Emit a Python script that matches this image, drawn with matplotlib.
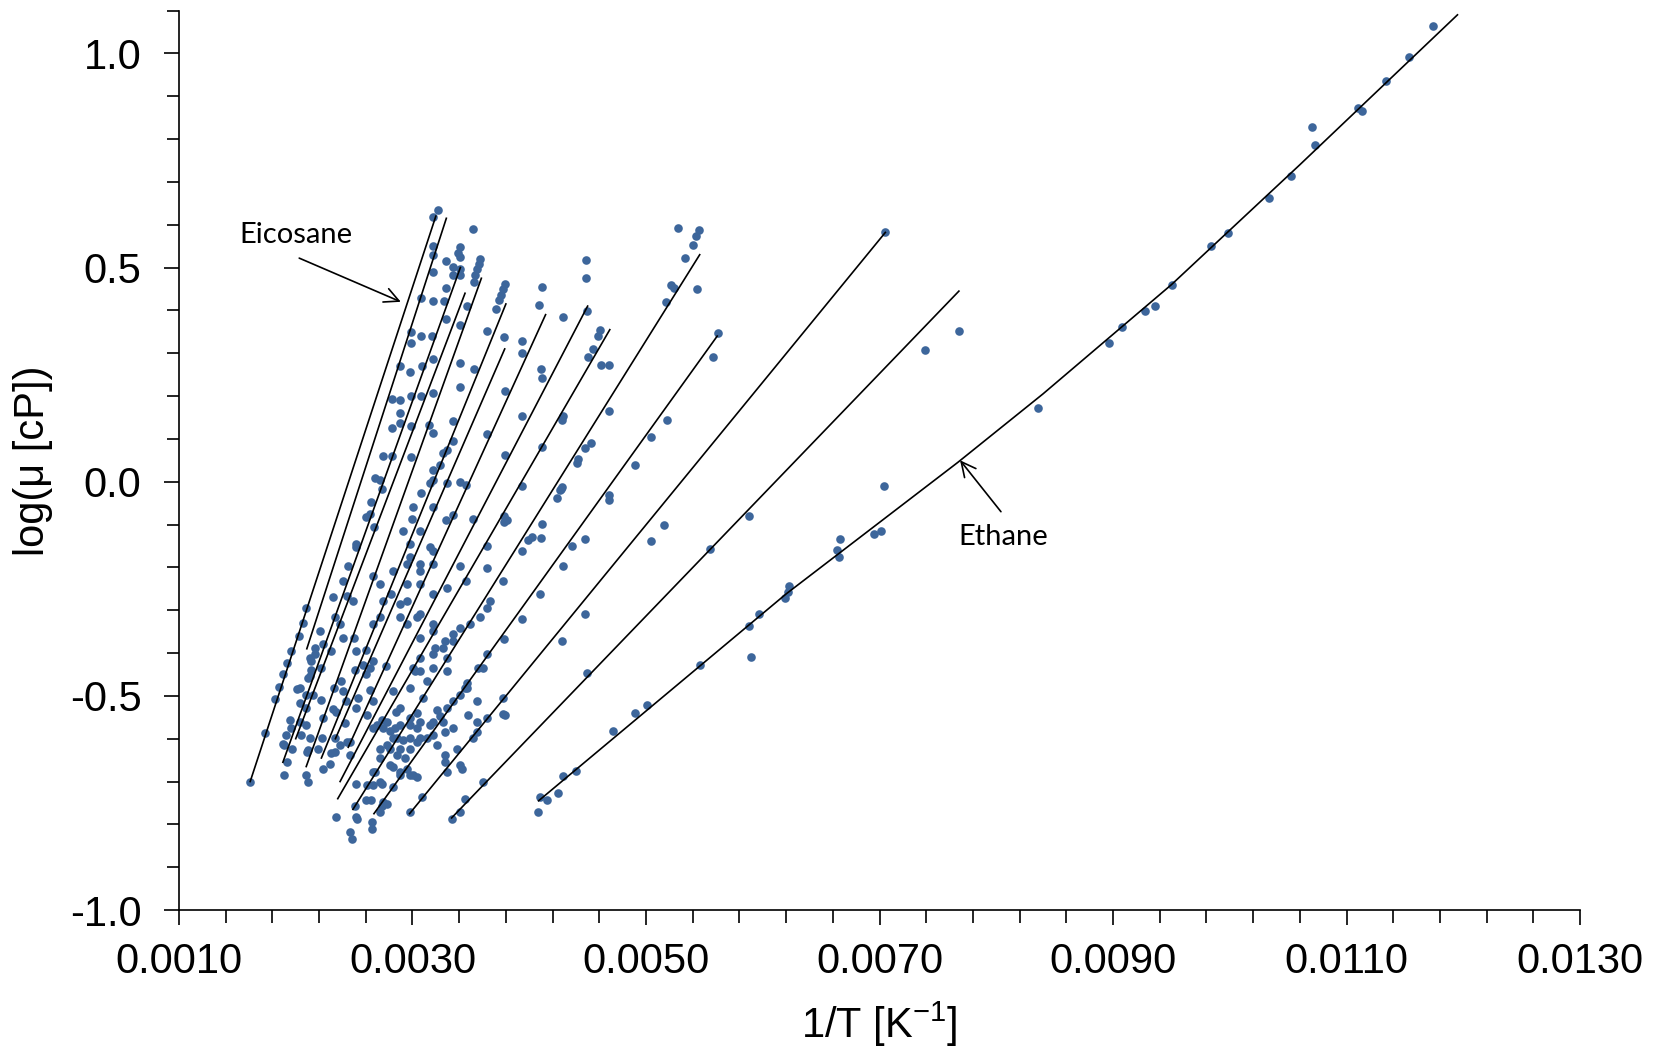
import matplotlib
matplotlib.use('Agg')
import matplotlib.pyplot as plt
import numpy as np

plt.rcParams['font.family'] = ['Liberation Sans', 'DejaVu Sans']
plt.rcParams['axes.unicode_minus'] = False
plt.rcParams['mathtext.fontset'] = 'custom'
plt.rcParams['mathtext.rm'] = 'Liberation Sans'

# correlation lines, 1/T in 1e-3 K^-1 vs log10(mu/cP); eicosane first, ethane last
fit_x = [
    [1.61, 3.20],
    [2.095, 3.29],
    [1.89, 3.41],
    [2.00, 3.45],
    [2.09, 3.59],
    [2.22, 3.80],
    [2.34, 3.79],
    [2.45, 4.14],
    [2.38, 4.50],
    [2.36, 4.69],
    [2.49, 5.46],
    [2.67, 5.61],
    [2.975, 7.05],
    [3.335, 7.68],
    [4.08, 6.20, 7.67, 8.40, 9.50, 10.60, 11.95],
]
fit_y = [
    [-0.70, 0.62],
    [-0.39, 0.615],
    [-0.655, 0.50],
    [-0.60, 0.44],
    [-0.665, 0.475],
    [-0.645, 0.415],
    [-0.60, 0.31],
    [-0.62, 0.39],
    [-0.70, 0.41],
    [-0.74, 0.355],
    [-0.765, 0.53],
    [-0.775, 0.34],
    [-0.775, 0.582],
    [-0.785, 0.445],
    [-0.745, -0.262, 0.045, 0.205, 0.46, 0.74, 1.09],
]

# experimental points, low-T side of the heavy alkanes (1/T in 1e-3 K^-1)
low_x = [1.611, 1.741, 1.820, 1.855, 1.892, 1.929, 1.963, 2.024, 2.086, 1.901,
         1.898, 1.926, 1.969, 2.049, 2.035, 2.040, 2.007, 2.092, 2.106, 2.106,
         2.192, 2.221, 2.092, 2.129, 2.163, 2.120, 2.149, 2.086, 2.234, 2.214,
         2.315, 2.329, 2.306, 2.335, 2.234, 2.335, 2.435, 2.463, 2.349, 2.520,
         2.507, 2.463, 2.478, 2.655, 2.655, 2.606, 2.649, 2.664, 2.735, 2.520,
         2.678, 2.735, 2.778, 2.835, 2.892, 2.950, 3.007, 2.978, 3.064, 3.035,
         3.178, 3.236, 3.292, 3.349, 3.406, 3.464, 3.278, 3.349, 3.278, 3.378,
         3.421, 2.892, 2.864, 2.721, 2.778, 2.664, 2.778, 2.849, 2.892, 2.978,
         3.064, 3.007, 3.178, 3.349, 3.549, 3.549, 3.606, 3.635, 3.635, 3.664,
         3.778, 3.807, 3.935, 3.935, 4.093, 4.107, 4.264, 4.407, 4.478, 4.478,
         4.493, 4.721, 4.908, 5.007, 4.908, 4.687, 3.778, 3.793, 3.635, 3.549,
         3.450]
low_y = [-0.701, -0.586, -0.508, -0.479, -0.450, -0.423, -0.396, -0.360, -0.296, -0.685,
         -0.615, -0.654, -0.623, -0.591, -0.560, -0.517, -0.485, -0.685, -0.701, -0.627,
         -0.623, -0.598, -0.569, -0.419, -0.403, -0.454, -0.499, -0.529, -0.552, -0.509,
         -0.530, -0.482, -0.634, -0.630, -0.670, -0.599, -0.607, -0.638, -0.783, -0.783,
         -0.756, -0.818, -0.834, -0.795, -0.811, -0.744, -0.744, -0.709, -0.705, -0.705,
         -0.678, -0.756, -0.752, -0.713, -0.685, -0.670, -0.685, -0.623, -0.599, -0.576,
         -0.560, -0.548, -0.529, -0.513, -0.497, -0.482, -0.584, -0.576, -0.638, -0.623,
         -0.670, -0.623, -0.599, -0.623, -0.615, -0.576, -0.560, -0.576, -0.529, -0.482,
         -0.442, -0.435, -0.403, -0.372, -0.513, -0.560, -0.435, -0.403, -0.294, -0.278,
         -0.231, -0.090, -0.321, -0.161, -0.262, -0.098, -0.020, 0.043, -0.133, -0.309,
         -0.446, -0.583, -0.540, -0.521, 0.039, -0.043, -0.505, -0.544, -0.552, -0.584,
         -0.482]

bot_x = [3.207, 3.264, 3.150, 3.178, 3.207, 3.122, 3.036, 2.979, 3.064, 2.979,
         2.893, 2.835, 2.807, 2.721, 2.664, 2.607, 2.521, 2.464, 2.607, 2.735,
         2.807, 2.864, 2.935, 2.979, 3.036, 2.893, 2.807, 2.721, 2.750, 2.721,
         2.979, 3.078, 3.278, 3.292, 3.407, 3.478, 3.778, 3.521, 3.607, 3.450,
         3.407, 3.336, 4.078, 4.150, 4.093, 4.293, 4.402, 4.250,
         1.892, 1.920, 1.949, 1.957, 2.097, 2.120, 2.086, 2.040, 2.106, 2.134,
         2.220, 2.348, 2.420, 2.434, 2.406, 2.392, 2.506, 2.535, 2.520, 2.377,
         2.291, 2.606, 2.634, 2.663, 2.749, 2.835, 2.920, 2.978, 3.035, 3.092,
         3.020, 3.064, 2.606, 2.663, 2.777, 2.835, 2.863, 2.692, 3.121]
bot_y = [-0.532, -0.560, -0.568, -0.591, -0.615, -0.599, -0.607, -0.599, -0.560, -0.552,
         -0.568, -0.599, -0.623, -0.646, -0.677, -0.709, -0.787, -0.607, -0.544, -0.556,
         -0.583, -0.638, -0.646, -0.685, -0.689, -0.677, -0.662, -0.701, -0.748, -0.771,
         -0.771, -0.736, -0.654, -0.677, -0.662, -0.544, -0.542, -0.599, -0.701, -0.740,
         -0.771, -0.787, -0.770, -0.744, -0.736, -0.687, -0.676, -0.726,
         -0.613, -0.591, -0.556, -0.576, -0.631, -0.599, -0.497, -0.482, -0.458, -0.439,
         -0.435, -0.537, -0.564, -0.513, -0.489, -0.466, -0.439, -0.505, -0.529, -0.615,
         -0.658, -0.450, -0.486, -0.513, -0.576, -0.666, -0.603, -0.568, -0.541, -0.505,
         -0.443, -0.411, -0.392, -0.419, -0.431, -0.489, -0.537, -0.568, -0.466]

mid_x = [2.827, 2.892, 2.984, 3.072, 3.178, 2.892, 2.892, 2.827, 2.984, 3.141,
         2.749, 2.827, 2.984, 3.178, 2.678, 2.721, 2.735, 2.649, 2.635, 2.606,
         2.669, 2.520, 2.520, 2.449, 2.406, 2.663, 2.721, 2.435, 2.492, 2.320,
         2.335, 2.063, 2.120, 2.163, 2.206, 2.234, 2.306, 2.377, 2.406, 2.501,
         2.520, 2.578, 2.635, 2.663, 2.749, 2.721, 2.820, 2.892, 2.835, 2.978,
         3.064, 3.150, 2.950, 3.064, 3.178, 2.921, 2.992, 3.072, 3.007, 3.150,
         3.236, 3.292, 2.892, 2.950, 3.064, 3.178, 3.192, 3.278, 3.178, 3.292,
         3.409, 3.793, 3.935, 4.284, 4.681, 5.178, 3.635, 3.795, 4.106, 4.478,
         4.530, 5.047, 3.935, 4.273, 4.235, 4.370, 5.047, 5.158, 3.785, 3.785,
         4.104, 4.020, 3.987, 3.635, 3.641, 4.286, 3.785, 4.284, 3.405, 3.462,
         3.520, 3.349, 3.283, 3.578, 3.492, 3.406, 3.349, 3.263, 3.178, 3.064,
         3.564, 3.464, 3.292, 3.263, 3.349, 3.349, 3.292, 3.178, 3.178, 3.064,
         2.978, 3.178, 3.064, 2.949, 3.406, 3.462, 3.292, 3.178, 3.035, 2.949,
         5.464, 3.172]
mid_y = [0.194, 0.190, 0.200, 0.200, 0.206, 0.161, 0.137, 0.125, 0.129, 0.133,
         0.061, 0.061, 0.057, 0.114, 0.009, 0.004, -0.016, -0.047, -0.075, -0.082,
         -0.106, -0.145, -0.153, -0.196, -0.231, -0.219, -0.239, -0.266, -0.278, -0.270,
         -0.317, -0.329, -0.411, -0.388, -0.349, -0.380, -0.396, -0.333, -0.364, -0.364,
         -0.396, -0.427, -0.435, -0.333, -0.278, -0.317, -0.262, -0.286, -0.208, -0.176,
         -0.192, -0.153, -0.239, -0.239, -0.192, -0.114, -0.086, -0.027, -0.059, -0.004,
         0.039, 0.074, -0.317, -0.333, -0.310, -0.333, -0.388, -0.372, -0.435, -0.411,
         0.222, 0.211, 0.153, 0.143, 0.164, 0.145, 0.112, 0.062, 0.080, 0.078,
         0.091, 0.104, -0.009, -0.018, -0.037, -0.150, -0.139, -0.100, -0.081, -0.094,
         -0.131, -0.128, -0.137, -0.151, -0.202, -0.196, -0.368, -0.371, 0.000, -0.008,
         -0.086, -0.078, -0.090, -0.317, -0.333, -0.341, -0.356, -0.388, -0.349, -0.364,
         -0.435, -0.470, -0.443, 0.066, 0.094, 0.141, -0.004, 0.004, -0.059, -0.114,
         -0.145, -0.161, -0.208, -0.192, -0.196, -0.231, -0.247, -0.262, -0.317, -0.278,
         -0.427, 0.027]

top_x = [3.216, 3.178, 3.178, 3.178, 3.178, 3.073, 3.178, 3.284, 3.284, 3.270,
         3.344, 3.349, 3.407, 3.393, 3.407, 3.521, 3.578, 3.567, 3.550, 3.536,
         3.527, 3.470, 3.284, 3.407, 3.076, 2.984, 2.984, 3.163, 2.893, 2.978,
         3.078, 3.178, 3.407, 3.527, 3.641, 3.787, 3.795, 3.778, 3.757, 3.741,
         3.713, 3.939, 3.939, 4.107, 4.080, 4.287, 4.102, 4.110, 4.482, 4.482,
         4.493, 4.607, 4.593, 4.548, 4.507, 4.615, 4.681, 3.406, 3.406]
top_y = [0.634, 0.619, 0.551, 0.530, 0.489, 0.430, 0.421, 0.515, 0.453, 0.421,
         0.502, 0.483, 0.548, 0.533, 0.525, 0.591, 0.521, 0.509, 0.497, 0.482,
         0.466, 0.411, 0.381, 0.367, 0.341, 0.349, 0.325, 0.341, 0.270, 0.257,
         0.270, 0.286, 0.276, 0.262, 0.352, 0.337, 0.462, 0.451, 0.436, 0.425,
         0.403, 0.329, 0.300, 0.454, 0.412, 0.385, 0.264, 0.243, 0.518, 0.476,
         0.398, 0.354, 0.341, 0.310, 0.291, 0.273, 0.272, 0.497, 0.482]

# lighter alkanes (butane, propane, ethane ...)
light_x = [5.278, 5.458, 5.427, 5.399, 5.338, 5.441, 5.211, 5.240, 5.175, 7.050,
           5.613, 5.576, 4.286, 4.416, 4.284, 4.680, 5.552, 5.882, 5.896, 5.970,
           5.882, 6.194, 6.229, 6.212, 6.632, 6.649, 6.664, 6.952, 7.009, 7.036,
           7.393, 7.680,
           11.742, 11.535, 11.342, 11.100, 11.135, 10.703, 10.732, 10.522, 10.336,
           9.985, 9.836, 9.507, 9.363, 9.272, 9.075, 8.962, 8.361]
light_y = [0.592, 0.588, 0.574, 0.552, 0.522, 0.449, 0.460, 0.453, 0.420, 0.583,
           0.348, 0.291, 0.153, 0.052, -0.012, -0.032, -0.156, -0.081, -0.409, -0.310,
           -0.338, -0.272, -0.244, -0.257, -0.160, -0.176, -0.133, -0.121, -0.115, -0.010,
           0.308, 0.352,
           1.063, 0.992, 0.935, 0.872, 0.865, 0.829, 0.785, 0.714, 0.663,
           0.581, 0.551, 0.459, 0.410, 0.398, 0.361, 0.324, 0.173]

x_ticks = [0.001, 0.003, 0.005, 0.007, 0.009, 0.011, 0.013]

fig = plt.figure(figsize=(16.54, 10.55), dpi=100)
ax = fig.add_axes([0.1082, 0.1374, 0.8471, 0.8526])

dot_color = '#3d669b'
for xs, ys in ((low_x, low_y), (bot_x, bot_y), (mid_x, mid_y),
               (top_x, top_y), (light_x, light_y)):
    ax.plot(np.array(xs) * 1e-3, ys, 'o', color=dot_color, ms=6.2,
            mec='none', zorder=2)

for xs, ys in zip(fit_x, fit_y):
    ax.plot(np.array(xs) * 1e-3, ys, '-', color='black', lw=1.2, zorder=3)

ax.text(2.006e-3, 0.576, 'Eicosane', family='Lato', fontsize=21,
        ha='center', va='center')
ax.annotate('', xy=(2.90e-3, 0.42), xytext=(2.03e-3, 0.522),
            arrowprops=dict(arrowstyle='->', color='black', lw=1.2,
                            mutation_scale=26, shrinkA=0, shrinkB=0))
ax.text(8.063e-3, -0.128, 'Ethane', family='Lato', fontsize=21,
        ha='center', va='center')
ax.annotate('', xy=(7.69e-3, 0.05), xytext=(8.04e-3, -0.07),
            arrowprops=dict(arrowstyle='->', color='black', lw=1.2,
                            mutation_scale=26, shrinkA=0, shrinkB=0))

ax.set_xlim(0.001, 0.013)
ax.set_ylim(-1.0, 1.1)
ax.set_xticks(x_ticks)
ax.set_xticks(np.arange(0.001, 0.01301, 0.0004), minor=True)
ax.set_yticks([-1.0, -0.5, 0.0, 0.5, 1.0])
ax.set_yticks(np.arange(-1.0, 1.101, 0.1), minor=True)
ax.xaxis.set_major_formatter(plt.FormatStrFormatter('%.4f'))
ax.yaxis.set_major_formatter(plt.FormatStrFormatter('%.1f'))

for side in ('top', 'right'):
    ax.spines[side].set_visible(False)
for side in ('left', 'bottom'):
    ax.spines[side].set_linewidth(1.2)

ax.tick_params(axis='both', which='major', direction='out', length=11,
               width=1.2, labelsize=30)
ax.tick_params(axis='both', which='minor', direction='out', length=9,
               width=1.2)
ax.tick_params(axis='x', which='major', pad=12)
ax.tick_params(axis='y', which='major', pad=16)

ax.set_xlabel('1/T [K$^{-1}$]', fontsize=30)
ax.set_ylabel('log(μ [cP])', fontsize=30)
ax.xaxis.set_label_coords(0.5, -0.100)
ax.yaxis.set_label_coords(-0.090, 0.5)

fig.savefig('out.png', dpi=100)
